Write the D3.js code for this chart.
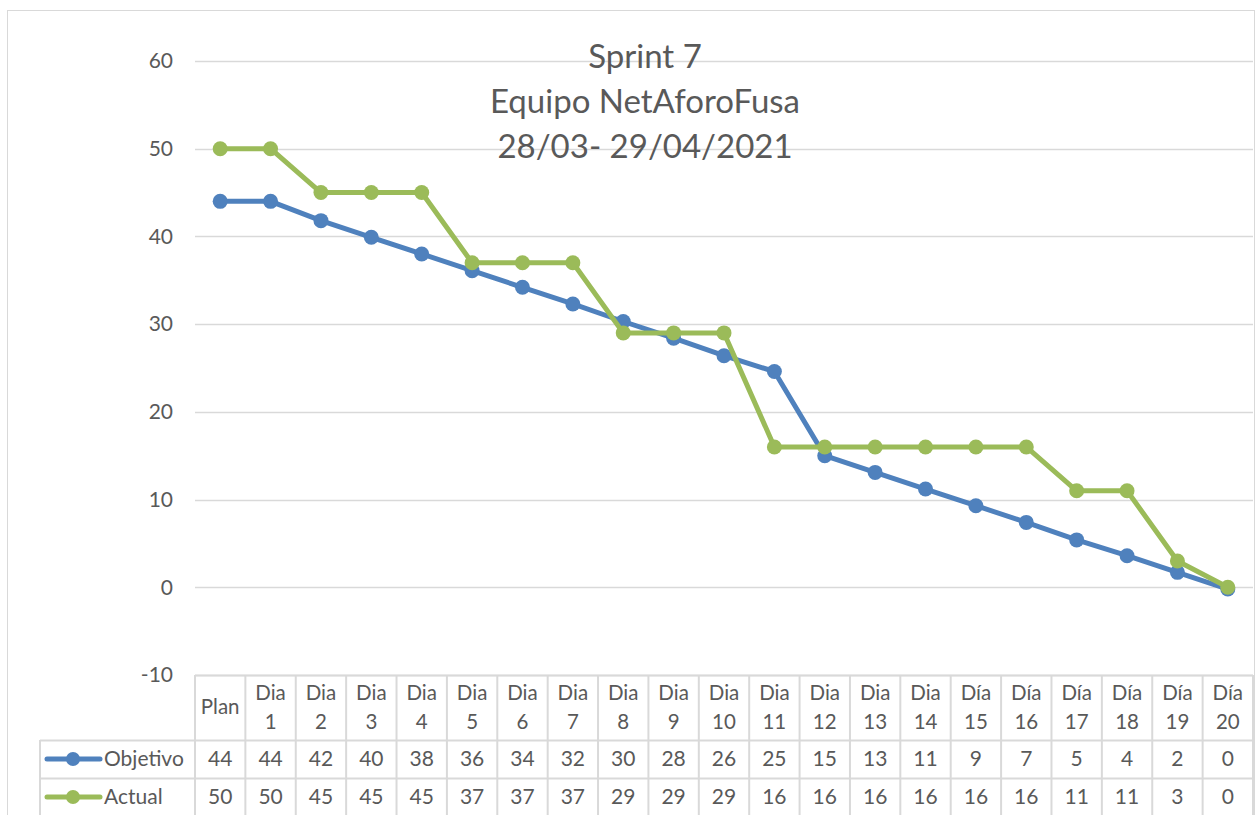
<!DOCTYPE html>
<html>
<head>
<meta charset="utf-8">
<script src="https://cdn.jsdelivr.net/npm/d3@7"></script>
<style>
  body { margin: 0; background: #fff; }
  svg { display: block; font-family: "Lato", "Open Sans", sans-serif; }
</style>
</head>
<body>
<svg id="chart" width="1259" height="815"></svg>
<script>
// data
var categories = ["Plan", "Dia 1", "Dia 2", "Dia 3", "Dia 4", "Dia 5", "Dia 6", "Dia 7", "Dia 8", "Dia 9", "Dia 10",
  "Dia 11", "Dia 12", "Dia 13", "Dia 14", "Día 15", "Día 16", "Día 17", "Día 18", "Día 19", "Día 20"];
var objetivo = [44, 44, 41.8, 39.9, 38, 36.1, 34.2, 32.3, 30.3, 28.4, 26.4, 24.6, 15, 13.1, 11.2, 9.3, 7.4, 5.4, 3.6, 1.7, -0.2];
var actual = [50, 50, 45, 45, 45, 37, 37, 37, 29, 29, 29, 16, 16, 16, 16, 16, 16, 11, 11, 3, 0];
var yTicks = [-10, 0, 10, 20, 30, 40, 50, 60];
var titleLines = ["Sprint 7", "Equipo NetAforoFusa", "28/03- 29/04/2021"];

var series = [
  { name: "Objetivo", values: objetivo, color: "#4F81BD" },
  { name: "Actual", values: actual, color: "#9BBB59" }
];

var svg = d3.select("#chart");
var plotLeft = 195, plotRight = 1253, plotTop = 61, plotBottom = 675;

var x = d3.scaleBand().domain(categories).range([plotLeft, plotRight]);
var y = d3.scaleLinear().domain([-10, 60]).range([plotBottom, plotTop]);

// outer frame
svg.append("rect")
  .attr("x", 7.5).attr("y", 10.5).attr("width", 1247).attr("height", 820)
  .attr("fill", "none").attr("stroke", "#D9D9D9").attr("stroke-width", 1);

// gridlines
svg.append("g").selectAll("line").data(yTicks).join("line")
  .attr("x1", plotLeft).attr("x2", plotRight)
  .attr("y1", function(d) { return Math.round(y(d)) + 0.5; })
  .attr("y2", function(d) { return Math.round(y(d)) + 0.5; })
  .attr("stroke", "#D9D9D9").attr("stroke-width", 1.5);

// y labels
svg.append("g").selectAll("text").data(yTicks).join("text")
  .attr("x", 173).attr("y", function(d) { return y(d); })
  .attr("dy", "0.35em")
  .attr("text-anchor", "end")
  .attr("font-size", 21).attr("fill", "#595959")
  .text(function(d) { return d; });

// title
svg.append("g").selectAll("text").data(titleLines).join("text")
  .attr("x", 645).attr("y", function(d, i) { return 68 + i * 45; })
  .attr("text-anchor", "middle")
  .attr("font-size", 33).attr("fill", "#595959")
  .text(function(d) { return d; });

// lines + markers
var line = d3.line()
  .x(function(d, i) { return x(categories[i]) + x.bandwidth() / 2; })
  .y(function(d) { return y(d); });

series.forEach(function(s) {
  svg.append("path").datum(s.values)
    .attr("d", line)
    .attr("fill", "none").attr("stroke", s.color)
    .attr("stroke-width", 5).attr("stroke-linejoin", "round");
  svg.append("g").selectAll("circle").data(s.values).join("circle")
    .attr("cx", function(d, i) { return x(categories[i]) + x.bandwidth() / 2; })
    .attr("cy", function(d) { return y(d); })
    .attr("r", 7.5)
    .attr("fill", s.color);
});

// data table
var rowH = 38, headTop = plotBottom, headBot = 740, legLeft = 40;
var tg = svg.append("g");
var gridColor = "#D9D9D9";

tg.append("line").attr("x1", plotLeft).attr("x2", plotRight).attr("y1", headTop + 0.5).attr("y2", headTop + 0.5)
  .attr("stroke", gridColor).attr("stroke-width", 2);
[headBot, headBot + rowH, headBot + 2 * rowH].forEach(function(yy) {
  tg.append("line").attr("x1", legLeft).attr("x2", plotRight).attr("y1", yy + 0.5).attr("y2", yy + 0.5)
    .attr("stroke", gridColor).attr("stroke-width", 2);
});
var vx = categories.map(function(c) { return x(c); }).concat([plotRight]);
tg.selectAll("line.v").data(vx).join("line")
  .attr("class", "v")
  .attr("x1", function(d) { return d; }).attr("x2", function(d) { return d; })
  .attr("y1", headTop).attr("y2", 815)
  .attr("stroke", gridColor).attr("stroke-width", 2);
tg.append("line").attr("x1", legLeft).attr("x2", legLeft).attr("y1", headBot).attr("y2", 815)
  .attr("stroke", gridColor).attr("stroke-width", 2);

// header labels
categories.forEach(function(c) {
  var cx = x(c) + x.bandwidth() / 2;
  var parts = c.split(" ");
  var t = tg.append("text").attr("text-anchor", "middle")
    .attr("font-size", 20.5).attr("fill", "#595959");
  if (parts.length === 1) {
    t.attr("x", cx).attr("y", 714).text(c);
  } else {
    t.append("tspan").attr("x", cx).attr("y", 700).text(parts[0]);
    t.append("tspan").attr("x", cx).attr("y", 729).text(parts[1]);
  }
});

// value rows
series.forEach(function(s, r) {
  var cy = headBot + rowH * r + rowH / 2;
  tg.append("line").attr("x1", 47).attr("x2", 100).attr("y1", cy).attr("y2", cy)
    .attr("stroke", s.color).attr("stroke-width", 5).attr("stroke-linecap", "round");
  tg.append("circle").attr("cx", 73).attr("cy", cy).attr("r", 7).attr("fill", s.color);
  tg.append("text").attr("x", 104).attr("y", cy).attr("dy", "0.35em")
    .attr("font-size", 21).attr("fill", "#595959").text(s.name);
  tg.selectAll(null).data(s.values).join("text")
    .attr("x", function(d, i) { return x(categories[i]) + x.bandwidth() / 2; })
    .attr("y", cy).attr("dy", "0.35em")
    .attr("text-anchor", "middle")
    .attr("font-size", 21).attr("fill", "#595959")
    .text(function(d) { return Math.max(0, Math.round(d)); });
});
</script>
</body>
</html>
